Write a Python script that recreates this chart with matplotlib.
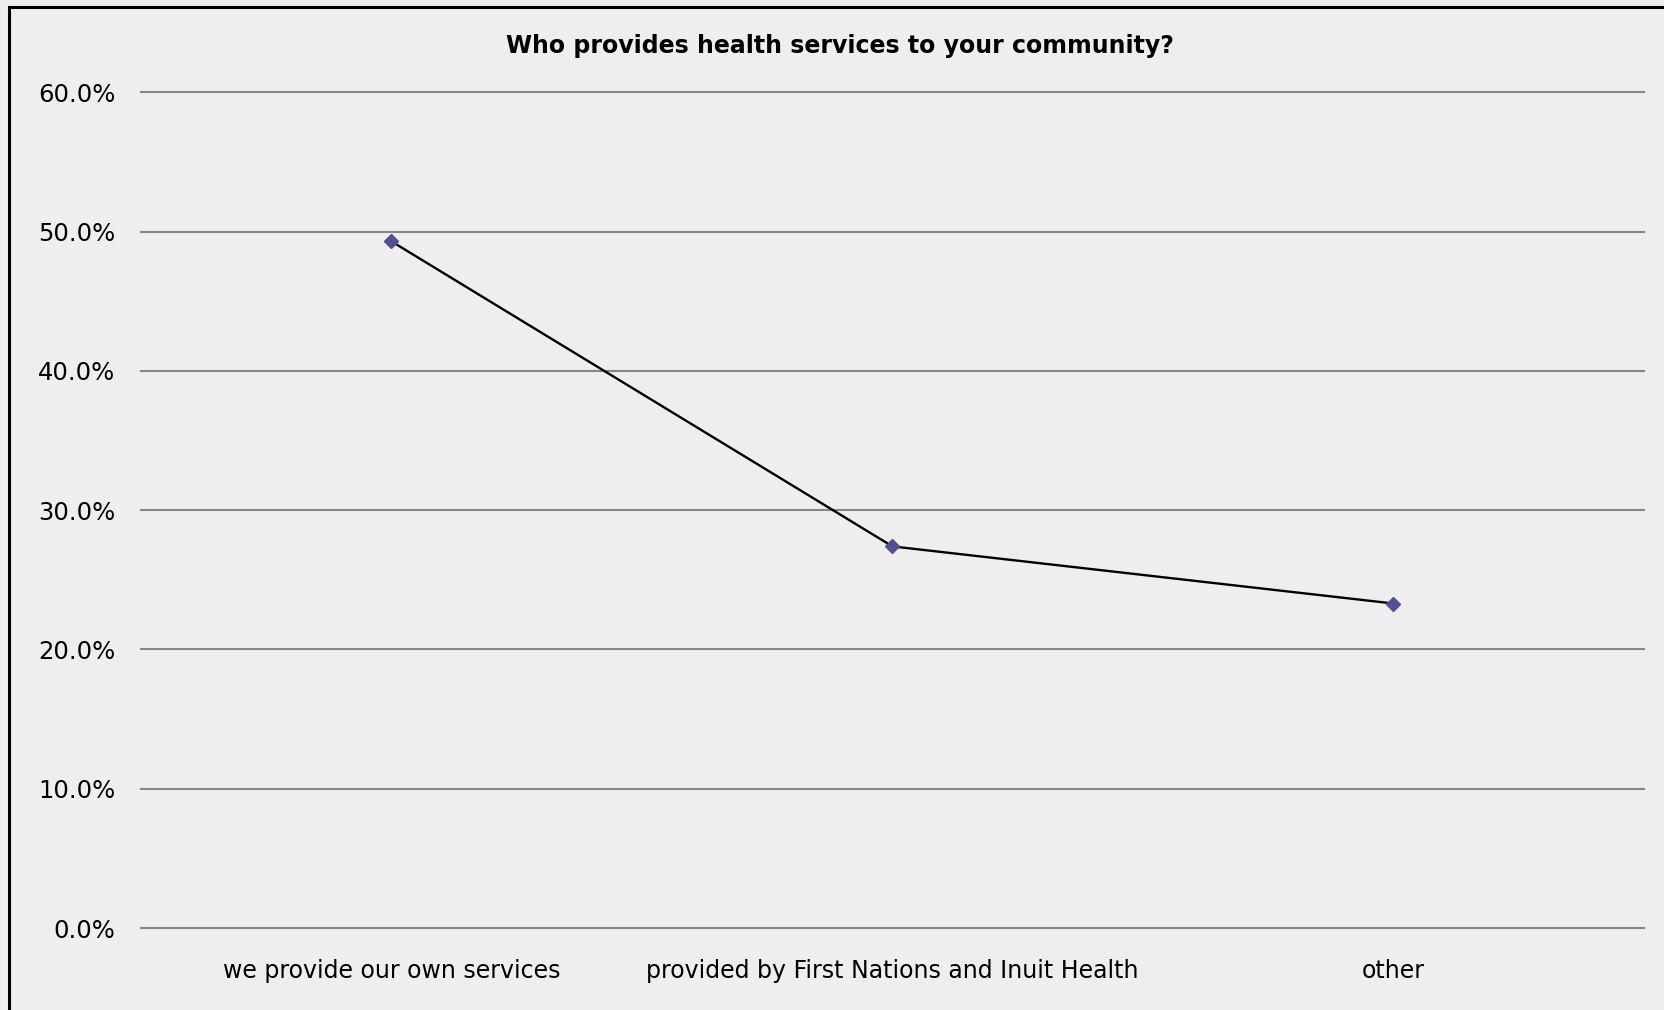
import matplotlib
matplotlib.use("Agg")
import matplotlib.pyplot as plt
from matplotlib.patches import Rectangle
from matplotlib.ticker import FuncFormatter

categories = ["we provide our own services",
              "provided by First Nations and Inuit Health",
              "other"]
shares = [49.3, 27.4, 23.3]          # percent of respondents
y_ticks = [0, 10, 20, 30, 40, 50, 60]
title = "Who provides health services to your community?"

W, H, DPI = 1665, 1010, 100
bg = "#eeeeee"
plt.rcParams["font.family"] = ["DejaVu Sans"]

fig = plt.figure(figsize=(W / DPI, H / DPI), dpi=DPI, facecolor=bg)
ax = fig.add_axes([141 / W, 1 - 928 / H, (1644 - 141) / W, (928 - 92.4) / H])
ax.set_facecolor(bg)

x = list(range(len(categories)))
ax.plot(x, shares, color="black", lw=1.7, zorder=3,
        marker="D", markersize=7.5, markerfacecolor="#4f5192",
        markeredgecolor="#4f5192", clip_on=False)

ax.set_xlim(-0.5, len(categories) - 0.5)
ax.set_ylim(y_ticks[0], y_ticks[-1])
ax.set_yticks(y_ticks)
ax.yaxis.set_major_formatter(FuncFormatter(lambda v, _: f"{v:.1f}%"))
ax.set_xticks(x)
ax.set_xticklabels(categories)

ax.grid(axis="y", color="#868686", lw=1.5)
for gl in ax.get_ygridlines():
    gl.set_clip_on(False)
ax.set_axisbelow(True)
for s in ax.spines.values():
    s.set_visible(False)
ax.tick_params(axis="both", length=0, colors="black")
ax.tick_params(axis="y", pad=18.5, labelsize=17.5)
ax.tick_params(axis="x", pad=22, labelsize=17)

fig.text(840 / W, 1 - 46 / H, title, ha="center", va="center",
         fontsize=17, fontweight="bold")

# chart frame (left and top edges fall inside the canvas)
fig.patches.append(Rectangle((9 / W, -0.1), 1.2, 1 - 7 / H + 0.1,
                             transform=fig.transFigure, fill=False,
                             edgecolor="black", lw=2.2))

fig.savefig("out.png", dpi=DPI, facecolor=bg)
